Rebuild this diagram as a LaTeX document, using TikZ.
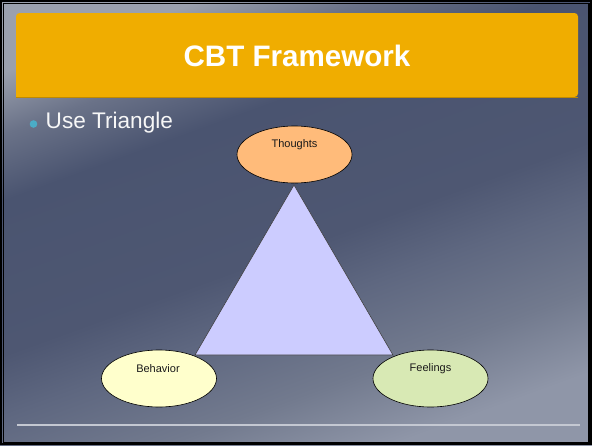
\documentclass[tikz,border=0pt]{standalone}
\usepackage{fontspec}
\setmainfont{Liberation Sans}
\usetikzlibrary{shapes.geometric}
\definecolor{bg0}{HTML}{9AA0AE}
\definecolor{bg1}{HTML}{6A7288}
\definecolor{bg2}{HTML}{4A5470}
\definecolor{bg3}{HTML}{4E5772}
\definecolor{bg4}{HTML}{5E6780}
\definecolor{bg5}{HTML}{727A8E}
\definecolor{bg6}{HTML}{8F96A8}
\definecolor{titlebar}{HTML}{F0AD00}
\definecolor{bulletblue}{HTML}{4BACC6}
\definecolor{thoughtfill}{HTML}{FFBB7A}
\definecolor{behavfill}{HTML}{FFFFCC}
\definecolor{feelfill}{HTML}{D8E9B4}
\definecolor{trifill}{HTML}{CCCCFF}
\definecolor{rulegrey}{HTML}{C4C8D2}
\pgfdeclarehorizontalshading{slidebg}{100bp}{color(0bp)=(bg0); color(25bp)=(bg0); color(31bp)=(bg1); color(37.5bp)=(bg2); color(52.5bp)=(bg3); color(58.5bp)=(bg4); color(67bp)=(bg5); color(75bp)=(bg6); color(100bp)=(bg6)}
\tikzset{
  bubble/.style={ellipse, draw=black, line width=0.6pt, minimum width=115pt, minimum height=57pt, inner sep=0pt},
  bubbletext/.style={font=\fontsize{11}{13}\selectfont, text=black!90},
}
\begin{document}
\begin{tikzpicture}[x=1pt,y=-1pt]
\useasboundingbox (0,0) rectangle (592,445);
% background
\shade[shading=slidebg, shading angle=-70] (0,0) rectangle (592,445);
% frame
\draw[black, line width=2pt] (1,1) rectangle (591,444);
\draw[black, line width=1.2pt] (3.8,3.8) rectangle (589,442.5);
% title bar
\fill[titlebar, rounded corners=3.5pt] (16,97) -- (16,13) -- (578,13) -- (578,97) [sharp corners] -- cycle;
\draw[titlebar!80!black, line width=0.6pt] (16,97) -- (578,97);
\node[text=white, font=\fontsize{29.6}{34}\selectfont\bfseries] (title) at (297,55.5) {CBT Framework};
% bullet
\fill[bulletblue] (33.5,124) circle (3.8pt);
\node[anchor=west, text=white!94!gray, font=\fontsize{22.6}{26}\selectfont, inner sep=0pt] (bul) at (45.5,122.5) {Use Triangle};
% triangle
\draw[fill=trifill, draw=black!75, line width=0.6pt] (294,185) -- (195,355) -- (393,355) -- cycle;
% ellipses
\node[bubble, fill=thoughtfill] (thoughts) at (294.5,154.5) {};
\node[bubble, fill=behavfill] (behavior) at (159,378.5) {};
\node[bubble, fill=feelfill] (feelings) at (430.5,378.5) {};
\node[bubbletext] (tth) at (294.5,144.5) {Thoughts};
\node[bubbletext] (tbe) at (158,368.5) {Behavior};
\node[bubbletext] (tfe) at (430.5,368.5) {Feelings};
% bottom rule
\draw[rulegrey, line width=1.5pt] (17,425) -- (580,425);
\end{tikzpicture}
\end{document}
